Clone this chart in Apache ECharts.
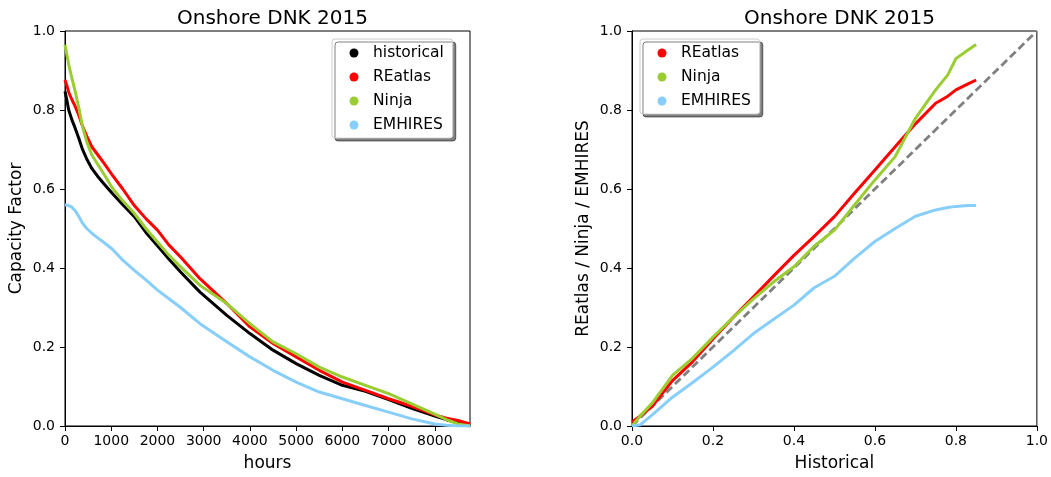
<!DOCTYPE html>
<html>
<head>
<meta charset="utf-8">
<script src="https://cdn.jsdelivr.net/npm/echarts@6/dist/echarts.min.js"></script>
<style>
	html, body {margin: 0; padding: 0; background: #fff;}
	#chart {width: 1051px; height: 477px;}
</style>
</head>
<body>
<div id="chart"></div>
<script>
// 左图: 按小时排序的容量因子
const hours = [0, 40, 80, 150, 220, 300, 370, 470, 580, 700, 850, 1020, 1250, 1500, 1750, 2000, 2250, 2500, 2920, 3500, 4000, 4500, 5000, 5500, 6000, 6500, 7000, 7500, 8000, 8250, 8500, 8760];
const historical = [0.847, 0.825, 0.80, 0.775, 0.754, 0.728, 0.703, 0.676, 0.652, 0.633, 0.612, 0.589, 0.56, 0.53, 0.49, 0.456, 0.422, 0.39, 0.339, 0.28, 0.234, 0.192, 0.158, 0.128, 0.103, 0.088, 0.067, 0.045, 0.025, 0.016, 0.008, 0.0];
const reatlas = [0.876, 0.862, 0.845, 0.826, 0.809, 0.786, 0.762, 0.734, 0.707, 0.688, 0.664, 0.636, 0.6, 0.558, 0.525, 0.496, 0.458, 0.428, 0.373, 0.31, 0.251, 0.209, 0.175, 0.141, 0.111, 0.09, 0.069, 0.05, 0.028, 0.02, 0.014, 0.005];
const ninja = [0.965, 0.94, 0.915, 0.88, 0.847, 0.805, 0.762, 0.72, 0.686, 0.664, 0.636, 0.603, 0.57, 0.538, 0.5, 0.466, 0.432, 0.403, 0.356, 0.31, 0.259, 0.213, 0.183, 0.149, 0.124, 0.103, 0.082, 0.056, 0.03, 0.016, 0.005, 0.0];
const emhires = [0.56, 0.559, 0.558, 0.554, 0.545, 0.53, 0.515, 0.5, 0.488, 0.477, 0.464, 0.448, 0.42, 0.394, 0.37, 0.344, 0.322, 0.30, 0.259, 0.213, 0.175, 0.141, 0.111, 0.086, 0.069, 0.052, 0.035, 0.018, 0.005, 0.002, 0.0, 0.0];

// 右图: 历史值 vs 模型值
const histQ = [0, 0.02, 0.05, 0.1, 0.15, 0.2, 0.25, 0.3, 0.35, 0.4, 0.45, 0.5, 0.55, 0.6, 0.65, 0.7, 0.75, 0.78, 0.8, 0.83, 0.85];
const reatlasQ = [0.01, 0.025, 0.05, 0.115, 0.163, 0.22, 0.275, 0.327, 0.38, 0.432, 0.48, 0.53, 0.59, 0.648, 0.707, 0.765, 0.817, 0.835, 0.851, 0.866, 0.876];
const ninjaQ = [0.0, 0.025, 0.058, 0.128, 0.172, 0.225, 0.275, 0.322, 0.365, 0.403, 0.455, 0.496, 0.56, 0.623, 0.682, 0.779, 0.851, 0.889, 0.93, 0.952, 0.966];
const emhiresQ = [0.0, 0.003, 0.028, 0.073, 0.11, 0.149, 0.19, 0.234, 0.27, 0.306, 0.35, 0.379, 0.425, 0.467, 0.5, 0.531, 0.547, 0.553, 0.556, 0.558, 0.558];
const diag = [[0, 0], [1, 1]];

const hourTicks = [0, 1000, 2000, 3000, 4000, 5000, 6000, 7000, 8000];

const colors = {
	historical: '#000000',
	REatlas: '#ff0000',
	Ninja: '#9acd32',
	EMHIRES: '#87cefa'
};

const font = 'DejaVu Sans';
const chart = echarts.init(document.getElementById('chart'), null, {renderer: 'canvas'});

function pairs(xs, ys){
	return xs.map((x, i) => [x, ys[i]]);
}

function lineSeries(name, data, xIdx){
	return {
		name: name,
		type: 'line',
		xAxisIndex: xIdx,
		yAxisIndex: xIdx,
		data: data,
		showSymbol: false,
		color: colors[name],
		lineStyle: {width: 3, color: colors[name], join: 'round'},
		animation: false
	};
}

function axisBase(){
	return {
		axisLine: {show: true, onZero: false, lineStyle: {color: '#000', width: 1}},
		axisTick: {show: true, inside: false, length: 5, lineStyle: {color: '#000', width: 1}},
		splitLine: {show: false},
		nameTextStyle: {color: '#000', fontFamily: font, fontSize: 17},
		nameLocation: 'middle'
	};
}

function legendBox(left, names){
	return {
		orient: 'vertical',
		left: left,
		top: 39,
		data: names,
		icon: 'circle',
		itemWidth: 28,
		itemHeight: 9,
		itemGap: 8,
		padding: [6, 9, 5, 17.5],
		backgroundColor: '#fff',
		borderColor: '#cccccc',
		borderWidth: 1,
		borderRadius: 3,
		shadowColor: 'rgba(0,0,0,0.5)',
		shadowBlur: 0,
		shadowOffsetX: 3,
		shadowOffsetY: 3,
		selectedMode: false,
		textStyle: {fontFamily: font, fontSize: 15.5, color: '#000', lineHeight: 15.6}
	};
}

const fmt1 = v => v.toFixed(1);
const labelStyle = {color: '#000', fontFamily: font, fontSize: 14};

const option = {
	backgroundColor: '#fff',
	animation: false,
	title: [
		{text: 'Onshore DNK 2015', left: 267.5, top: 4, textAlign: 'center',
			textStyle: {fontFamily: font, fontSize: 20, fontWeight: 'normal', color: '#000'}},
		{text: 'Onshore DNK 2015', left: 834.5, top: 4, textAlign: 'center',
			textStyle: {fontFamily: font, fontSize: 20, fontWeight: 'normal', color: '#000'}}
	],
	legend: [
		legendBox(332, ['historical', 'REatlas', 'Ninja', 'EMHIRES']),
		legendBox(640, ['REatlas', 'Ninja', 'EMHIRES'])
	],
	grid: [
		{left: 65, top: 31, width: 405, height: 395, show: true, borderColor: '#000', borderWidth: 1, backgroundColor: '#fff'},
		{left: 632, top: 31, width: 405, height: 395, show: true, borderColor: '#000', borderWidth: 1, backgroundColor: '#fff'}
	],
	xAxis: [
		Object.assign(axisBase(), {
			gridIndex: 0, type: 'value', min: 0, max: 8760,
			name: 'hours', nameGap: 29,
			axisTick: {show: true, length: 5, customValues: hourTicks, lineStyle: {color: '#000'}},
			axisLabel: Object.assign({margin: 8, customValues: hourTicks, formatter: v => String(v)}, labelStyle)
		}),
		Object.assign(axisBase(), {
			gridIndex: 1, type: 'value', min: 0, max: 1, interval: 0.2,
			name: 'Historical', nameGap: 29,
			axisLabel: Object.assign({margin: 8, formatter: fmt1}, labelStyle)
		})
	],
	yAxis: [
		Object.assign(axisBase(), {
			gridIndex: 0, type: 'value', min: 0, max: 1, interval: 0.2,
			name: 'Capacity Factor', nameGap: 40,
			axisLabel: Object.assign({margin: 10, formatter: fmt1}, labelStyle)
		}),
		Object.assign(axisBase(), {
			gridIndex: 1, type: 'value', min: 0, max: 1, interval: 0.2,
			name: 'REatlas / Ninja / EMHIRES', nameGap: 40,
			axisLabel: Object.assign({margin: 10, formatter: fmt1}, labelStyle)
		})
	],
	series: [
		lineSeries('historical', pairs(hours, historical), 0),
		lineSeries('REatlas', pairs(hours, reatlas), 0),
		lineSeries('Ninja', pairs(hours, ninja), 0),
		lineSeries('EMHIRES', pairs(hours, emhires), 0),
		{
			name: 'diag',
			type: 'line',
			xAxisIndex: 1,
			yAxisIndex: 1,
			data: diag,
			showSymbol: false,
			lineStyle: {color: '#808080', width: 2.8, type: [8, 4]},
			animation: false
		},
		lineSeries('REatlas', pairs(histQ, reatlasQ), 1),
		lineSeries('Ninja', pairs(histQ, ninjaQ), 1),
		lineSeries('EMHIRES', pairs(histQ, emhiresQ), 1)
	]
};

chart.setOption(option);
</script>
</body>
</html>
